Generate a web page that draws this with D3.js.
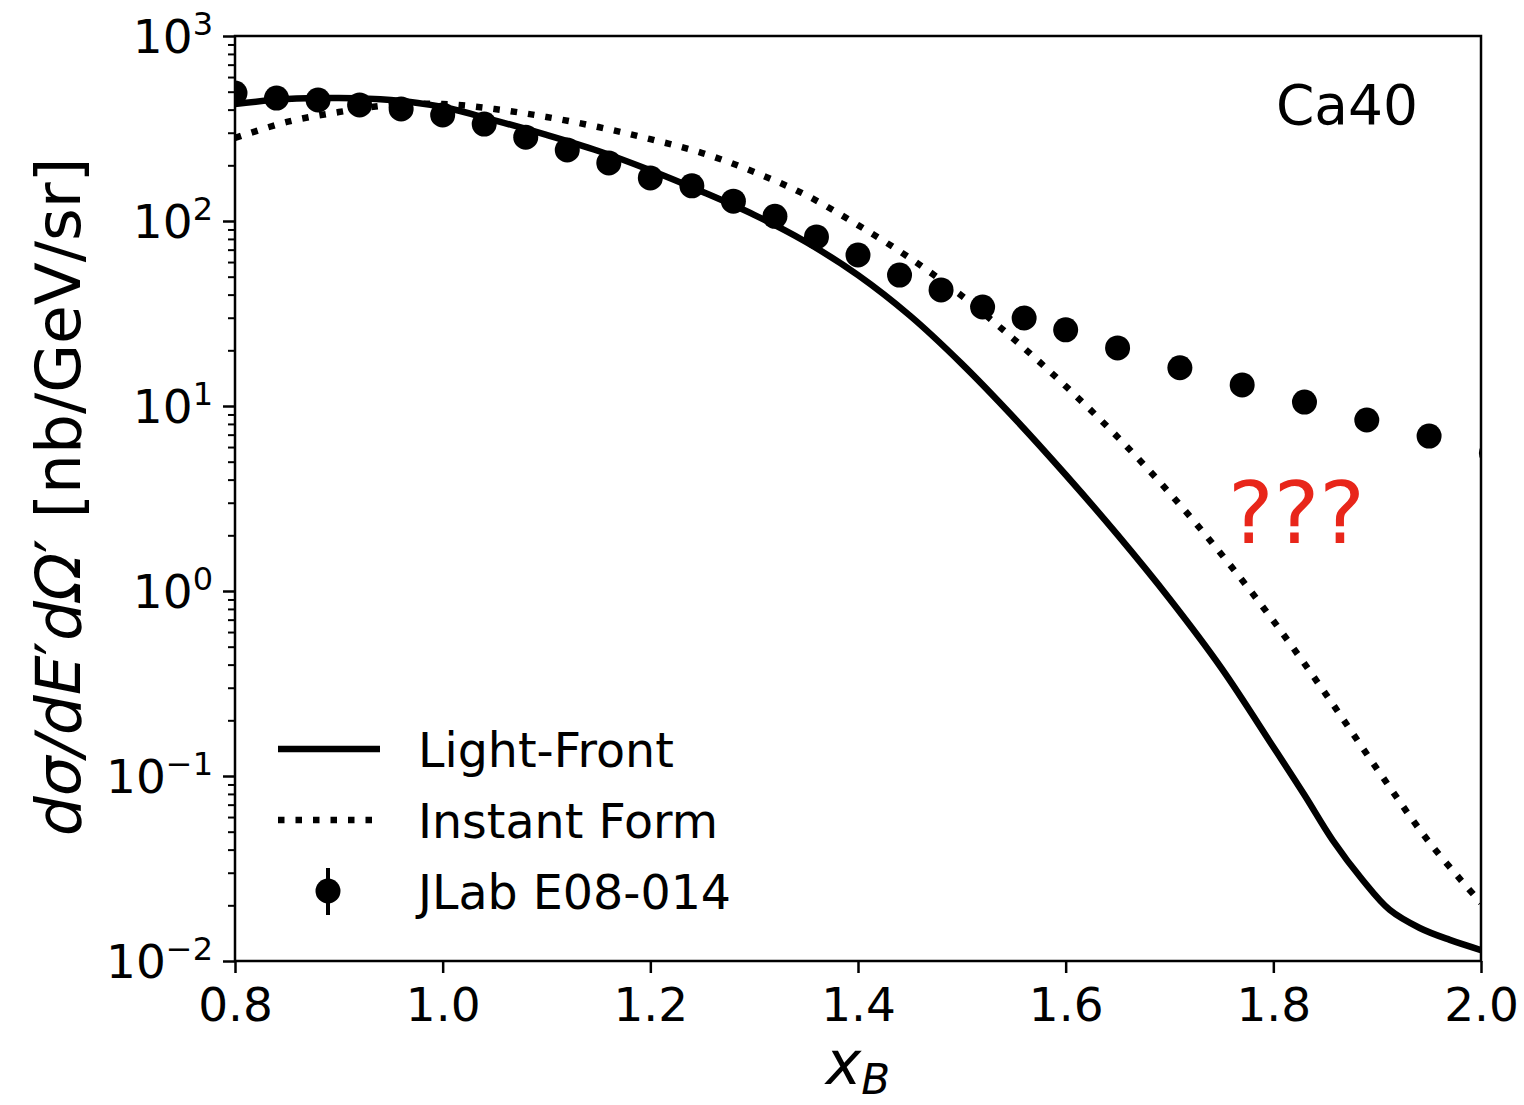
<!DOCTYPE html>
<html><head><meta charset="utf-8">
<script src="https://cdn.jsdelivr.net/npm/d3@7"></script>
<style>
html,body{margin:0;padding:0;background:#fff;}
svg text{font-family:"DejaVu Sans",sans-serif;}
</style></head>
<body>
<svg id="chart" width="1524" height="1105"></svg>
<script>
// ---- data ----
const lfX = [0.80,0.85,0.90,0.95,1.00,1.05,1.10,1.15,1.20,1.25,1.30,1.35,1.40,1.45,1.50,1.55,1.60,1.65,1.70,1.75,1.80,1.83,1.857,1.886,1.912,1.941,1.970,2.00];
const lfY = [429,456,462,451,413,350,292,239,188,144,108,77,51,30.8,16.9,8.67,4.25,2.01,0.908,0.383,0.1435,0.0789,0.0451,0.0274,0.0189,0.01508,0.0130,0.01146];
const ifX = [0.80,0.85,0.90,0.95,1.00,1.05,1.10,1.15,1.20,1.25,1.30,1.35,1.40,1.45,1.50,1.55,1.60,1.65,1.70,1.75,1.80,1.85,1.90,1.95,2.00];
const ifY = [281,343,388,424,429,403,365,322,277,233,184,138,95,63,39.4,23,12.8,6.8,3.39,1.58,0.69,0.28,0.109,0.044,0.0206];
const dataX = [0.80,0.84,0.88,0.92,0.96,1.00,1.04,1.08,1.12,1.16,1.20,1.24,1.28,1.32,1.36,1.40,1.44,1.48,1.52,1.56,1.60,1.65,1.71,1.77,1.83,1.89,1.95,2.01];
const dataY = [492,462,451,424,403,374,334,284,242,206,171,155,128,106,82,65.5,51,42.4,34.3,29.9,25.8,20.6,16.1,13.0,10.5,8.4,6.88,5.57];
const xTicks = [0.8,1.0,1.2,1.4,1.6,1.8,2.0];
const yDecades = [-2,-1,0,1,2,3];
const seriesNames = ["Light-Front","Instant Form","JLab E08-014"];

// ---- layout ----
const L=235, R=1481, T=36, B=961;
const svg = d3.select("#chart");
const x = d3.scaleLinear().domain([0.8,2.0]).range([L,R]);
const y = d3.scaleLog().domain([1e-2,1e3]).range([B,T]);

svg.append("clipPath").attr("id","clip").append("rect")
  .attr("x",L).attr("y",T).attr("width",R-L).attr("height",B-T);

const plot = svg.append("g").attr("clip-path","url(#clip)");

const lf = lfX.map((d,i)=>[d,lfY[i]]);
const inf = ifX.map((d,i)=>[d,ifY[i]]);
const line = d3.line().x(d=>x(d[0])).y(d=>y(d[1])).curve(d3.curveCatmullRom.alpha(0.5));

plot.append("path").datum(inf).attr("d",line)
  .attr("fill","none").attr("stroke","#000").attr("stroke-width",6.5)
  .attr("stroke-dasharray","6.5,11");
plot.append("path").datum(lf).attr("d",line)
  .attr("fill","none").attr("stroke","#000").attr("stroke-width",6.5)
  .attr("stroke-linejoin","round");

plot.selectAll("circle.pt").data(dataX.map((d,i)=>[d,dataY[i]])).enter()
  .append("circle").attr("class","pt")
  .attr("cx",d=>x(d[0])).attr("cy",d=>y(d[1])).attr("r",12.5).attr("fill","#000");

// ---- axes ----
const xAxis = d3.axisBottom(x).tickValues(xTicks).tickSize(12).tickPadding(15)
  .tickFormat(d3.format(".1f"));
const gx = svg.append("g").attr("transform",`translate(0,${B})`).call(xAxis);
gx.select(".domain").remove();
gx.selectAll("line").attr("stroke-width",2.5);
gx.selectAll("text").attr("font-size",47).attr("font-family","DejaVu Sans").attr("fill","#000");

const majors = yDecades.map(e=>Math.pow(10,e));
const minors = [];
for (let e=-2;e<3;e++) for (let m=2;m<10;m++) minors.push(m*Math.pow(10,e));
const gyMin = svg.append("g").attr("transform",`translate(${L},0)`)
  .call(d3.axisLeft(y).tickValues(minors).tickSize(7).tickFormat(""));
gyMin.select(".domain").remove();
gyMin.selectAll("line").attr("stroke-width",2);
const gy = svg.append("g").attr("transform",`translate(${L},0)`)
  .call(d3.axisLeft(y).tickValues(majors).tickSize(12).tickFormat(""));
gy.select(".domain").remove();
gy.selectAll("line").attr("stroke-width",2.5);

yDecades.forEach(e=>{
  const t = svg.append("text").attr("x",L-22).attr("y",y(Math.pow(10,e))+17)
    .attr("text-anchor","end").attr("font-size",47).attr("fill","#000");
  t.append("tspan").text("10");
  t.append("tspan").attr("dy",-18).attr("font-size",32).text(e<0?"\u2212"+Math.abs(e):String(e));
});

// frame
svg.append("rect").attr("x",L).attr("y",T).attr("width",R-L).attr("height",B-T)
  .attr("fill","none").attr("stroke","#000").attr("stroke-width",2.5);

// ---- labels ----
const xl = svg.append("text").attr("x",858).attr("y",1084).attr("text-anchor","middle")
  .attr("font-size",60).attr("font-style","italic").attr("fill","#000");
xl.append("tspan").text("x");
xl.append("tspan").attr("dy",10).attr("font-size",42).text("B");

const yl = svg.append("text").attr("transform","translate(80,497) rotate(-90)")
  .attr("text-anchor","middle").attr("font-size",63).attr("fill","#000");
yl.append("tspan").attr("font-style","italic").text("d\u03C3/dE");
yl.append("tspan").text("\u2032");
yl.append("tspan").attr("font-style","italic").text("d\u03A9");
yl.append("tspan").text("\u2032");
yl.append("tspan").text(" [nb/GeV/sr]");

svg.append("text").attr("x",1418).attr("y",124).attr("text-anchor","end")
  .attr("font-size",55).attr("fill","#000").text("Ca40");

svg.append("text").attr("x",1228).attr("y",543)
  .attr("font-family","Liberation Sans, Arial, sans-serif")
  .attr("font-size",86).attr("fill","#e8261a").text("???");

// ---- legend ----
const lg = svg.append("g");
lg.append("line").attr("x1",278).attr("x2",380).attr("y1",749).attr("y2",749)
  .attr("stroke","#000").attr("stroke-width",6.5);
lg.append("line").attr("x1",278).attr("x2",380).attr("y1",820).attr("y2",820)
  .attr("stroke","#000").attr("stroke-width",6.5).attr("stroke-dasharray","6.5,11");
lg.append("line").attr("x1",328).attr("x2",328).attr("y1",868).attr("y2",915)
  .attr("stroke","#000").attr("stroke-width",4);
lg.append("circle").attr("cx",328).attr("cy",891).attr("r",12.5).attr("fill","#000");
seriesNames.forEach((n,i)=>{
  lg.append("text").attr("x",418).attr("y",767+i*71).attr("font-size",47.5)
    .attr("fill","#000").text(n);
});
</script>
</body></html>
